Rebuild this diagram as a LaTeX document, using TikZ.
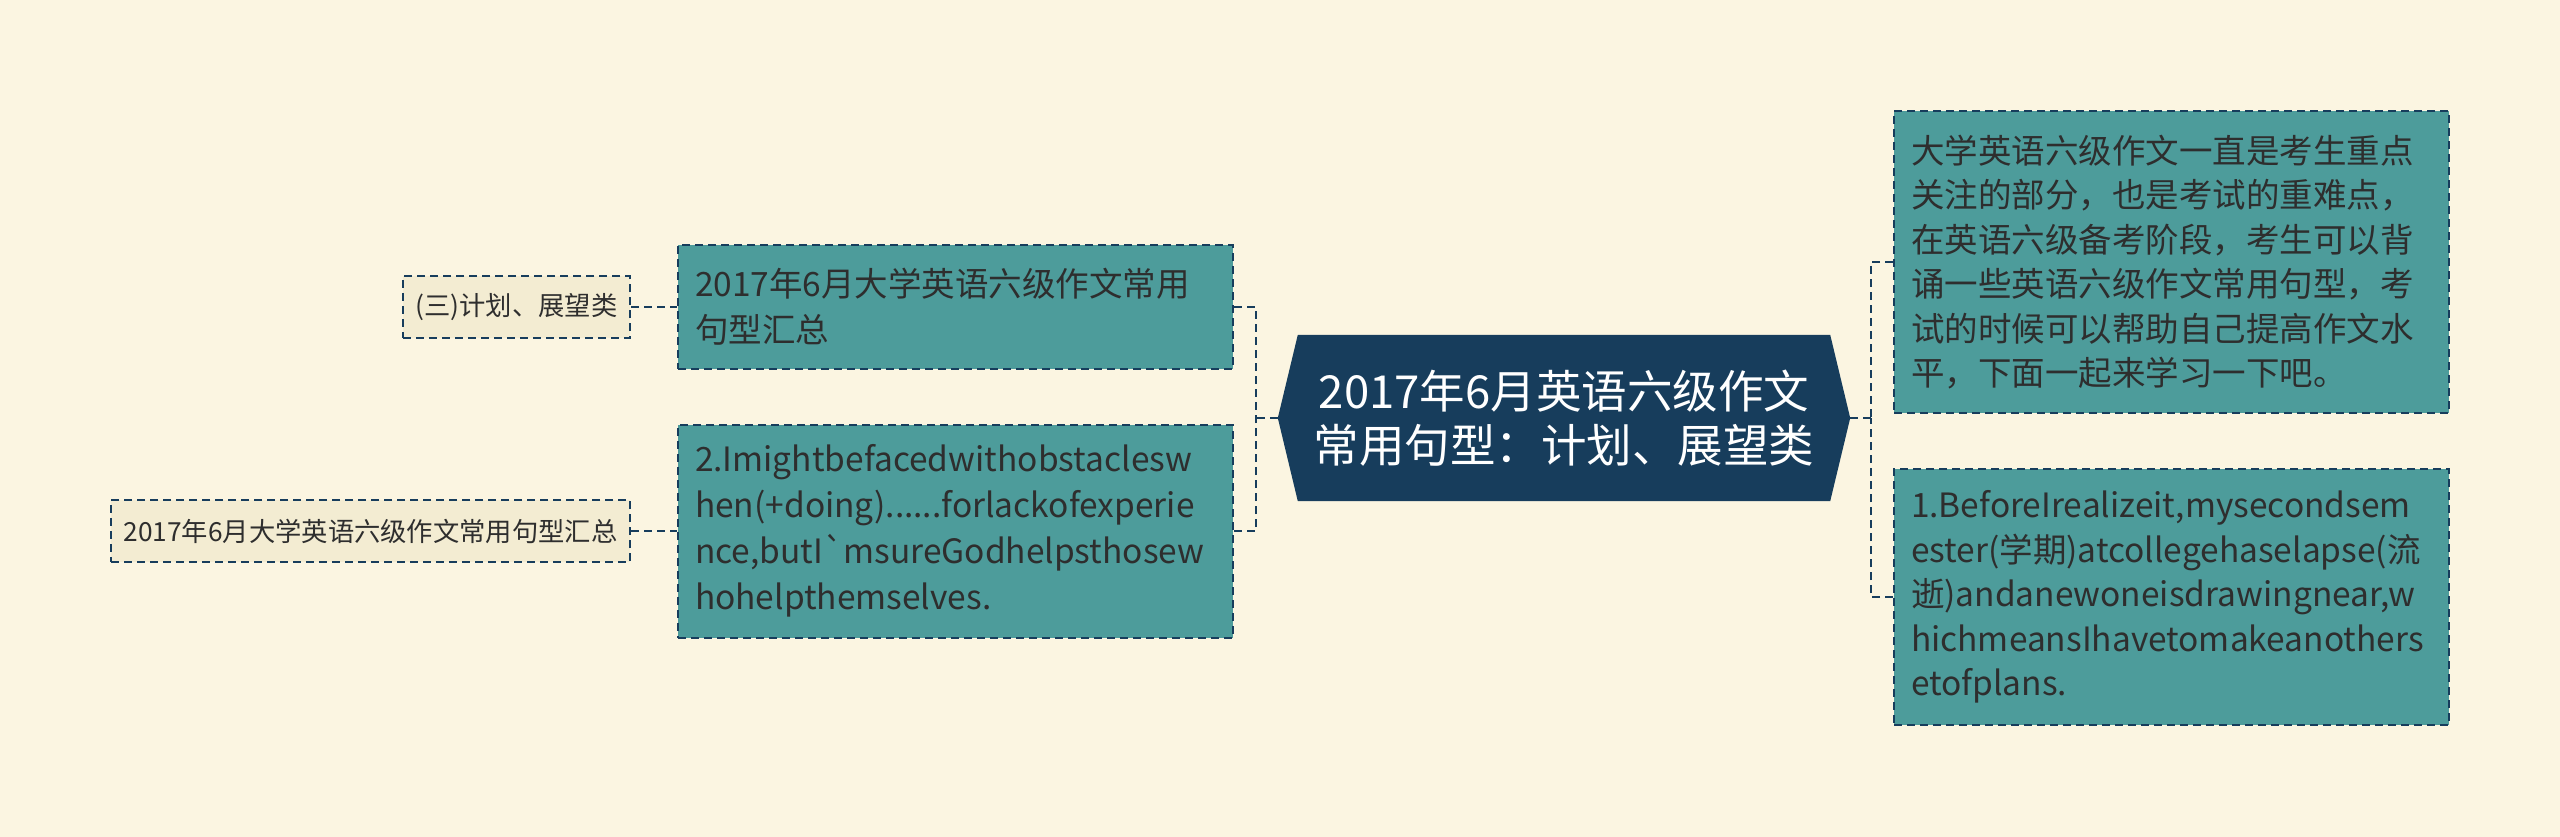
\documentclass[tikz,border=0pt]{standalone}
\usepackage{fontspec}
\newfontfamily\cjk{Noto Sans CJK SC}
\definecolor{bg}{HTML}{FBF5E1}
\definecolor{navy}{HTML}{173D5C}
\definecolor{tealc}{HTML}{4D9C9B}
\definecolor{cream}{HTML}{F3ECD2}
\definecolor{txt}{HTML}{2E2E2E}
\begin{document}
\begin{tikzpicture}[x=1pt,y=-1pt,
  dsh/.style={draw=navy, dash pattern=on 8pt off 5pt, line width=2pt},
  tealbox/.style={dsh, fill=tealc, text=txt, align=left, inner sep=0pt,
    font=\cjk\fontsize{33.5}{46}\selectfont, minimum width=555pt, text width=521pt},
  leafbox/.style={dsh, fill=cream, text=txt, align=center, inner sep=0pt,
    font=\cjk\fontsize{26.3}{30}\selectfont, minimum height=62pt},
  conn/.style={dsh, line width=2.5pt},
]
\fill[bg] (0,0) rectangle (2560,837);
\useasboundingbox (0,0) rectangle (2560,837);

% central node
\node[minimum width=572pt, minimum height=166pt, inner sep=0pt] (c) at (1564,418) {};
\fill[navy] (c.west) -- ([xshift=20pt]c.north west) -- ([xshift=-20pt]c.north east) -- (c.east)
  -- ([xshift=-20pt]c.south east) -- ([xshift=20pt]c.south west) -- cycle;
\node[text=white, align=center, font=\cjk\fontsize{45.5}{54}\selectfont] (ct) at (c.center)
  {2017年6月英语六级作文\\常用句型：计划、展望类};

% left branch
\node[tealbox, minimum height=124pt] (A) at (955.5,307)
  {2017年6月大学英语六级作文常用\\句型汇总};
\node[tealbox, minimum height=213pt] (B) at (955.5,531)
  {2.Imightbefacedwithobstaclesw\\hen(+doing)......forlackofexperie\\nce,butI\textasciigrave msureGodhelpsthosew\\hohelpthemselves.};
\node[leafbox, minimum width=227pt] (C) at (516.5,307) {(三)计划、展望类};
\node[leafbox, minimum width=519pt] (D) at (370.5,531) {2017年6月大学英语六级作文常用句型汇总};

% right branch
\node[tealbox, minimum height=302pt, font=\cjk\fontsize{33.5}{44.5}\selectfont] (E) at (2171.5,262)
  {大学英语六级作文一直是考生重点\\关注的部分，也是考试的重难点，\\在英语六级备考阶段，考生可以背\\诵一些英语六级作文常用句型，考\\试的时候可以帮助自己提高作文水\\平，下面一起来学习一下吧。};
\node[tealbox, minimum height=256pt, font=\cjk\fontsize{33.5}{44.5}\selectfont] (F) at (2171.5,597)
  {1.BeforeIrealizeit,mysecondsem\\ester(学期)atcollegehaselapse(流\\逝)andanewoneisdrawingnear,w\\hichmeansIhavetomakeanothers\\etofplans.};

% connectors
\coordinate (lj) at (1256,418);
\coordinate (rj) at (1871,418);
\draw[conn] (c.west) -- (lj);
\draw[conn] (A.east) -| (lj);
\draw[conn] (B.east) -| (lj);
\draw[conn] (c.east) -- (rj);
\draw[conn] (E.west) -| (rj);
\draw[conn] (F.west) -| (rj);
\draw[conn] (C.east) -- (A.west);
\draw[conn] (D.east) -- (B.west);
\end{tikzpicture}
\end{document}
